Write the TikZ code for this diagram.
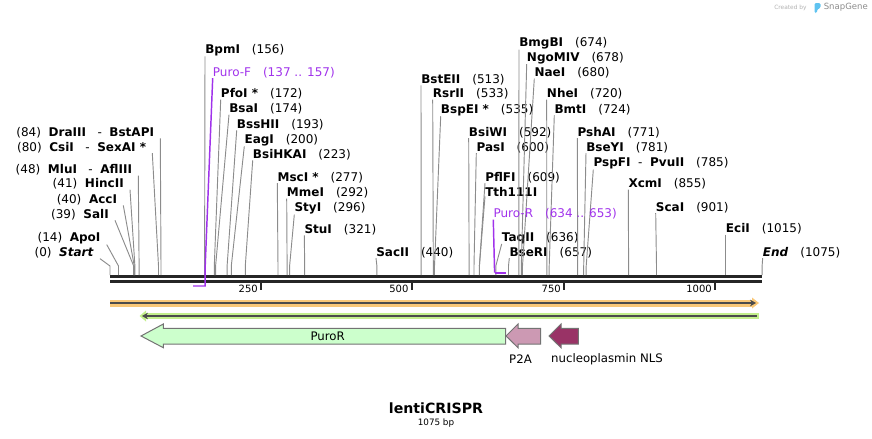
\documentclass[tikz,border=0pt]{standalone}
\usepackage{fontspec}
\setmainfont{DejaVu Sans}
\usetikzlibrary{arrows.meta}
\tikzset{>={Stealth[length=4.5pt,width=5pt]}}

\definecolor{leadgray}{RGB}{140,140,140}
\definecolor{featgray}{RGB}{115,115,115}
\definecolor{primer}{RGB}{160,50,235}
\definecolor{orangeband}{RGB}{250,200,120}
\definecolor{greenband}{RGB}{195,240,140}
\definecolor{purofill}{RGB}{204,255,204}
\definecolor{ptwofill}{RGB}{204,153,179}
\definecolor{nlsfill}{RGB}{153,51,102}
\definecolor{snapblue}{RGB}{95,195,240}

\begin{document}
\begin{tikzpicture}[x=0.75pt,y=-0.75pt]
  \tikzstyle{enz} = [inner sep=0pt, anchor=base west, font=\fontsize{9}{10}\selectfont]
  \tikzstyle{enzl} = [inner ysep=0pt, inner xsep=4.5pt, anchor=base east, font=\fontsize{9}{10}\selectfont]
  \tikzstyle{lead} = [draw=leadgray, line width=0.7pt]
  \tikzstyle{prim} = [draw=primer, line width=1.1pt]
  \tikzstyle{feat} = [draw=featgray, line width=0.75pt]
  \tikzstyle{flabel} = [font=\fontsize{8.8}{10}\selectfont]
  \tikzstyle{ticklab} = [anchor=east, inner sep=0pt, font=\fontsize{7.5}{9}\selectfont]

  \useasboundingbox (0,0) rectangle (872,439);

  % backbone and ruler
  \draw[line width=1.9pt, black!85] (110,276.5) -- (762,276.5);
  \draw[line width=1.9pt, black!85] (110,281.5) -- (762,281.5);
  \draw[line width=1.4pt, black!85] (261,283) -- (261,290);
  \draw[line width=1.4pt, black!85] (411.7,283) -- (411.7,290);
  \draw[line width=1.4pt, black!85] (564,283) -- (564,290);
  \draw[line width=1.4pt, black!85] (715,283) -- (715,290);
  \node[ticklab] (t250) at (258,288.5) {250};
  \node[ticklab] (t500) at (408.7,288.5) {500};
  \node[ticklab] (t750) at (561,288.5) {750};
  \node[ticklab] (t1000) at (712,288.5) {1000};

  % cut sites
  \coordinate (k0) at (110,266);
  \coordinate (k14) at (118.5,266);
  \coordinate (k39) at (133.7,266);
  \coordinate (k40) at (134.3,266);
  \coordinate (k41) at (134.9,266);
  \coordinate (k48) at (139.1,266);
  \coordinate (k80) at (158.5,266);
  \coordinate (k84) at (161,266);
  \coordinate (k156) at (204.6,266);
  \coordinate (k172) at (214.3,266);
  \coordinate (k174) at (215.6,266);
  \coordinate (k193) at (227.1,266);
  \coordinate (k200) at (231.3,266);
  \coordinate (k223) at (245.3,266);
  \coordinate (k277) at (278,266);
  \coordinate (k292) at (287.1,266);
  \coordinate (k296) at (289.6,266);
  \coordinate (k321) at (304.7,266);
  \coordinate (k440) at (376.9,266);
  \coordinate (k513) at (421.2,266);
  \coordinate (k533) at (433.3,266);
  \coordinate (k535) at (434.5,266);
  \coordinate (k592) at (469.1,266);
  \coordinate (k600) at (474,266);
  \coordinate (k609) at (479.4,266);
  \coordinate (k636) at (495.8,266);
  \coordinate (k657) at (508.5,266);
  \coordinate (k674) at (518.8,266);
  \coordinate (k678) at (521.3,266);
  \coordinate (k680) at (522.5,266);
  \coordinate (k720) at (546.8,266);
  \coordinate (k724) at (549.2,266);
  \coordinate (k771) at (577.7,266);
  \coordinate (k781) at (583.7,266);
  \coordinate (k785) at (586.2,266);
  \coordinate (k855) at (628.6,266);
  \coordinate (k901) at (656.5,266);
  \coordinate (k1015) at (725.7,266);
  \coordinate (k1075) at (762.1,266);

  % left hand labels
  \node[enzl] (draiii) at (160.3,136.5) {(84)\ \ \textbf{DraIII}\ \ \ -\ \ \textbf{BstAPI}};
  \node[enzl] (csii) at (152.3,151.2) {(80)\ \ \textbf{CsiI}\ \ \ -\ \ \textbf{SexAI *}};
  \node[enzl] (mlui) at (138.3,173.8) {(48)\ \ \textbf{MluI}\ \ \ -\ \ \textbf{AflIII}};
  \node[enzl] (hincii) at (130,187.8) {(41)\ \ \textbf{HincII}};
  \node[enzl] (acci) at (123.3,203.5) {(40)\ \ \textbf{AccI}};
  \node[enzl] (sali) at (115,218.5) {(39)\ \ \textbf{SalI}};
  \node[enzl] (apoi) at (106.7,241.8) {(14)\ \ \textbf{ApoI}};
  \node[enzl] (startl) at (100,256.8) {(0)\ \ \textbf{\textit{Start}}};

  \draw[lead] (draiii.south east) -- (k84) -- ++(0,9);
  \draw[lead] (csii.south east) -- (k80) -- ++(0,9);
  \draw[lead] (mlui.south east) -- (k48) -- ++(0,9);
  \draw[lead] (hincii.south east) -- (k41) -- ++(0,9);
  \draw[lead] (acci.south east) -- (k40) -- ++(0,9);
  \draw[lead] (sali.south east) -- (k39) -- ++(0,9);
  \draw[lead] (apoi.south east) -- (k14) -- ++(0,9);
  \draw[lead] (startl.south east) -- (k0) -- ++(0,9);

  % right hand labels
  \node[enz] (bpmi) at (205,53.5) {\textbf{BpmI}\quad(156)};
  \node[enz] (pfoi) at (220.7,97.8) {\textbf{PfoI *}\quad(172)};
  \node[enz] (bsai) at (229,112.8) {\textbf{BsaI}\quad(174)};
  \node[enz] (bsshii) at (236.7,128.5) {\textbf{BssHII}\quad(193)};
  \node[enz] (eagi) at (244.3,143.5) {\textbf{EagI}\quad(200)};
  \node[enz] (bsihkai) at (252.7,158.5) {\textbf{BsiHKAI}\quad(223)};
  \node[enz] (msci) at (277.3,181.2) {\textbf{MscI *}\quad(277)};
  \node[enz] (mmei) at (286.7,196.8) {\textbf{MmeI}\quad(292)};
  \node[enz] (styi) at (294.3,211.8) {\textbf{StyI}\quad(296)};
  \node[enz] (stui) at (304.3,233.5) {\textbf{StuI}\quad(321)};
  \node[enz] (sacii) at (376,256.2) {\textbf{SacII}\quad(440)};
  \node[enz] (bsteii) at (421,83.5) {\textbf{BstEII}\quad(513)};
  \node[enz] (rsrii) at (432.7,97.8) {\textbf{RsrII}\quad(533)};
  \node[enz] (bspei) at (440.7,113.5) {\textbf{BspEI *}\quad(535)};
  \node[enz] (bsiwi) at (468.7,136.2) {\textbf{BsiWI}\quad(592)};
  \node[enz] (pasi) at (476.3,151.2) {\textbf{PasI}\quad(600)};
  \node[enz] (pflfi) at (485,181.2) {\textbf{PflFI}\quad(609)};
  \node[enz] (tthi) at (485,196.2) {\textbf{Tth111I}};
  \node[enz] (taqii) at (501.7,241.2) {\textbf{TaqII}\quad(636)};
  \node[enz] (bseri) at (509.3,256.2) {\textbf{BseRI}\quad(657)};
  \node[enz] (bmgbi) at (519,46.8) {\textbf{BmgBI}\quad(674)};
  \node[enz] (ngomiv) at (526.7,61.2) {\textbf{NgoMIV}\quad(678)};
  \node[enz] (naei) at (534.3,76.8) {\textbf{NaeI}\quad(680)};
  \node[enz] (nhei) at (546.7,97.8) {\textbf{NheI}\quad(720)};
  \node[enz] (bmti) at (554.3,113.5) {\textbf{BmtI}\quad(724)};
  \node[enz] (pshai) at (577.3,136.2) {\textbf{PshAI}\quad(771)};
  \node[enz] (bseyi) at (586,151.2) {\textbf{BseYI}\quad(781)};
  \node[enz] (pspfi) at (593.3,166.8) {\textbf{PspFI}\ \ -\ \ \textbf{PvuII}\quad(785)};
  \node[enz] (xcmi) at (628.3,187.8) {\textbf{XcmI}\quad(855)};
  \node[enz] (scai) at (655.7,211.2) {\textbf{ScaI}\quad(901)};
  \node[enz] (ecii) at (725.7,232.8) {\textbf{EciI}\quad(1015)};
  \node[enz] (endl) at (762.7,256.2) {\textbf{\textit{End}}\quad(1075)};

  \draw[lead] (bpmi.south west) -- (k156) -- ++(0,9);
  \draw[lead] (pfoi.south west) -- (k172) -- ++(0,9);
  \draw[lead] (bsai.south west) -- (k174) -- ++(0,9);
  \draw[lead] (bsshii.south west) -- (k193) -- ++(0,9);
  \draw[lead] (eagi.south west) -- (k200) -- ++(0,9);
  \draw[lead] (bsihkai.south west) -- (k223) -- ++(0,9);
  \draw[lead] (msci.south west) -- (k277) -- ++(0,9);
  \draw[lead] (mmei.south west) -- (k292) -- ++(0,9);
  \draw[lead] (styi.south west) -- (k296) -- ++(0,9);
  \draw[lead] (stui.south west) -- (k321) -- ++(0,9);
  \draw[lead] (sacii.south west) -- (k440) -- ++(0,9);
  \draw[lead] (bsteii.south west) -- (k513) -- ++(0,9);
  \draw[lead] (rsrii.south west) -- (k533) -- ++(0,9);
  \draw[lead] (bspei.south west) -- (k535) -- ++(0,9);
  \draw[lead] (bsiwi.south west) -- (k592) -- ++(0,9);
  \draw[lead] (pasi.south west) -- (k600) -- ++(0,9);
  \draw[lead] (pflfi.south west) -- (k609) -- ++(0,9);
  \draw[lead] (tthi.south west) -- (k609);
  \draw[lead] (taqii.south west) -- (k636) -- ++(0,9);
  \draw[lead] (bseri.south west) -- (k657) -- ++(0,9);
  \draw[lead] (bmgbi.south west) -- (k674) -- ++(0,9);
  \draw[lead] (ngomiv.south west) -- (k678) -- ++(0,9);
  \draw[lead] (naei.south west) -- (k680) -- ++(0,9);
  \draw[lead] (nhei.south west) -- (k720) -- ++(0,9);
  \draw[lead] (bmti.south west) -- (k724) -- ++(0,9);
  \draw[lead] (pshai.south west) -- (k771) -- ++(0,9);
  \draw[lead] (bseyi.south west) -- (k781) -- ++(0,9);
  \draw[lead] (pspfi.south west) -- (k785) -- ++(0,9);
  \draw[lead] (xcmi.south west) -- (k855) -- ++(0,9);
  \draw[lead] (scai.south west) -- (k901) -- ++(0,9);
  \draw[lead] (ecii.south west) -- (k1015) -- ++(0,9);
  \draw[lead] (endl.south west) -- (k1075) -- ++(0,9);

  % primers
  \coordinate (pfl) at (193.1,286);
  \coordinate (pfr) at (205.2,286);
  \coordinate (prl) at (494.6,272.7);
  \coordinate (prr) at (506.1,272.7);
  \node[enz, text=primer] (primF) at (212.7,76.2) {Puro-F\quad(137 .. 157)};
  \node[enz, text=primer] (primR) at (493.3,217.8) {Puro-R\quad(634 .. 653)};
  \draw[prim] (primF.south west) -- (pfr |- k156) -- (pfr) -- (pfl);
  \draw[prim] (primR.south west) -- (prl);
  \draw[prim, line width=1.6pt] (prl) -- (prr);

  % orange and green bands
  \fill[orangeband] (110,299.5) rectangle (752,306.5);
  \fill[orangeband] (752,297.5) -- (759,303) -- (752,308.5) -- cycle;
  \draw[line width=1.6pt, black!70, ->] (110,303) -- (756,303);
  \fill[greenband] (146,313) rectangle (758.5,319);
  \fill[greenband] (146,310.5) -- (139.5,316) -- (146,321.5) -- cycle;
  \draw[line width=1.6pt, black!70, ->] (756.5,316) -- (142,316);

  % features
  \filldraw[feat, fill=purofill] (141,336) -- (163.3,324) -- (163.3,328.3) -- (505.7,328.3)
    -- (505.7,344) -- (163.3,344) -- (163.3,347.7) -- cycle;
  \filldraw[feat, fill=ptwofill] (506,336) -- (518,324) -- (518,328.3) -- (540.7,328.3)
    -- (540.7,344) -- (518,344) -- (518,347.7) -- cycle;
  \filldraw[feat, fill=nlsfill] (549,336) -- (561,324) -- (561,328.3) -- (578.3,328.3)
    -- (578.3,344) -- (561,344) -- (561,347.7) -- cycle;
  \node[flabel] (puro) at (327.7,336) {PuroR};
  \node[flabel] (ptwoa) at (520.5,359) {P2A};
  \node[flabel] (nls) at (607,359) {nucleoplasmin NLS};

  % title
  \node[font=\bfseries\fontsize{10.6}{12}\selectfont] (title) at (436,408.3) {lentiCRISPR};
  \node[font=\fontsize{6.6}{7}\selectfont] (len) at (436,423.3) {1075 bp};

  % watermark
  \node[anchor=west, inner sep=0pt, text=black!30, font=\fontsize{4.4}{5}\selectfont] (made) at (774,7.5) {Created by};
  \fill[snapblue, rounded corners=1pt] (814.5,3) -- (820.5,3) -- (820.5,8) -- (817,9.5) -- (817,13) -- (814.5,13) -- cycle;
  \node[anchor=west, inner sep=0pt, text=black!45, font=\fontsize{6.4}{7}\selectfont] (snapg) at (823.5,7.5) {SnapGene};
\end{tikzpicture}
\end{document}
